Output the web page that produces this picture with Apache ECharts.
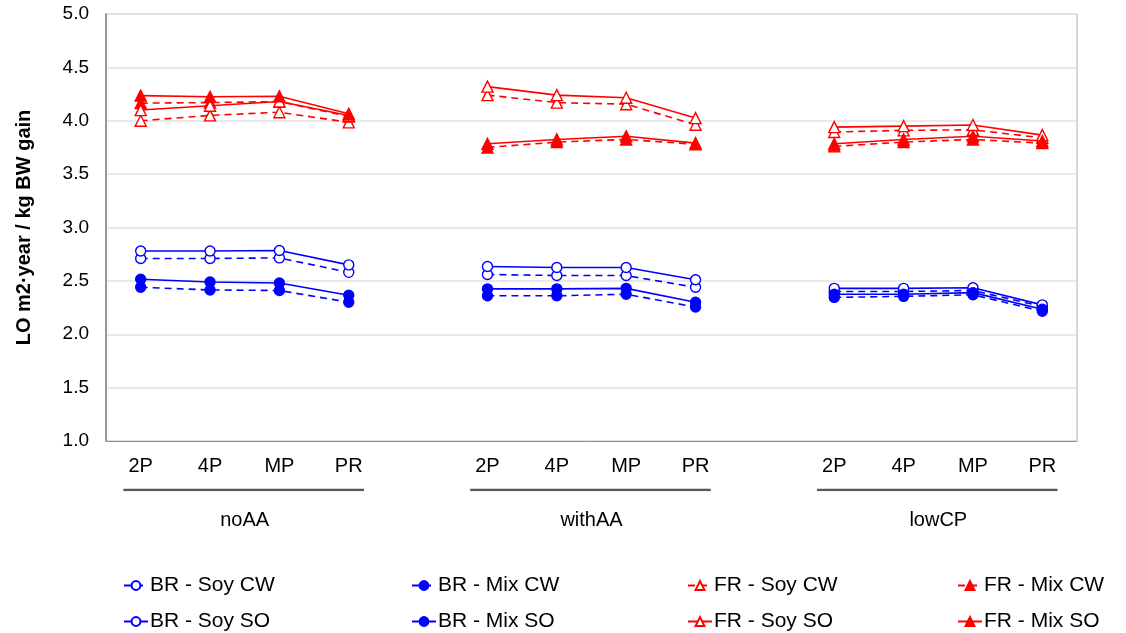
<!DOCTYPE html>
<html>
<head>
<meta charset="utf-8">
<title>LO per kg BW gain</title>
<script src="https://cdn.jsdelivr.net/npm/echarts@6/dist/echarts.min.js"></script>
<style>
  html, body { margin: 0; padding: 0; background: #fff; }
  #chart { width: 1126px; height: 633px; }
</style>
</head>
<body>
<div id="chart"></div>
<script>
// Production systems within each scenario
const systems = ['2P', '4P', 'MP', 'PR'];
// Feed scenarios, each a group of four systems
const scenarios = ['noAA', 'withAA', 'lowCP'];

// LO (m2·year per kg BW gain), values per scenario in order noAA, withAA, lowCP
const brSoyCW = [2.71, 2.71, 2.715, 2.58,   2.56, 2.55, 2.55, 2.44,    2.40, 2.40, 2.41, 2.26];
const brMixCW = [2.44, 2.415, 2.41, 2.30,   2.36, 2.36, 2.375, 2.255,  2.345, 2.355, 2.37, 2.215];
const frSoyCW = [4.00, 4.05, 4.08, 3.985,   4.24, 4.17, 4.155, 3.963,  3.895, 3.91, 3.915, 3.84];
const frMixCW = [4.165, 4.17, 4.18, 4.04,   3.75, 3.80, 3.825, 3.78,   3.76, 3.80, 3.825, 3.79];
const brSoySO = [2.78, 2.78, 2.785, 2.65,   2.635, 2.625, 2.625, 2.51, 2.43, 2.43, 2.435, 2.275];
const brMixSO = [2.515, 2.49, 2.48, 2.365,  2.425, 2.425, 2.43, 2.30,  2.375, 2.375, 2.39, 2.235];
const frSoySO = [4.10, 4.14, 4.18, 4.05,    4.32, 4.24, 4.215, 4.025,  3.94, 3.95, 3.96, 3.865];
const frMixSO = [4.235, 4.225, 4.23, 4.065, 3.785, 3.825, 3.855, 3.79, 3.785, 3.825, 3.855, 3.81];

// y axis range
const yMin = 1.0, yMax = 5.0, yStep = 0.5;

// Legend entries, row by row
const legendRows = [
  ['BR - Soy CW', 'BR - Mix CW', 'FR - Soy CW', 'FR - Mix CW'],
  ['BR - Soy SO', 'BR - Mix SO', 'FR - Soy SO', 'FR - Mix SO']
];

// Category axis: four systems per scenario, one blank slot between scenarios
const categories = [];
scenarios.forEach((s, gi) => {
  systems.forEach(p => categories.push(p));
  if (gi < scenarios.length - 1) categories.push('');
});

// Spread 12 values over the category slots, leaving gaps blank
function spread(vals) {
  const out = [];
  scenarios.forEach((s, gi) => {
    for (let k = 0; k < systems.length; k++) out.push(vals[gi * systems.length + k]);
    if (gi < scenarios.length - 1) out.push('-');
  });
  return out;
}

const BLUE = '#0000ff', RED = '#ff0000';

function lineSeries(name, vals, color, symbol, filled, dashed) {
  return {
    name: name,
    type: 'line',
    data: spread(vals),
    connectNulls: false,
    symbol: symbol,
    symbolSize: symbol === 'triangle' ? 11 : 10,
    showAllSymbol: true,
    lineStyle: { color: color, width: 1.6, type: dashed ? [7, 5] : 'solid' },
    itemStyle: { color: filled ? color : '#ffffff', borderColor: color, borderWidth: 1.4 },
    emphasis: { disabled: true },
    z: 3
  };
}

// Underline under each scenario's systems, in slot units
const groupCentres = scenarios.map((s, gi) => gi * (systems.length + 1) + (systems.length - 1) / 2);
function underline(gi) {
  const first = gi * (systems.length + 1);
  const last = first + systems.length - 1;
  return {
    type: 'line',
    xAxisIndex: 1,
    yAxisIndex: 1,
    data: [[first - 0.25, 0], [last + 0.22, 0]],
    symbol: 'none',
    silent: true,
    lineStyle: { color: '#595959', width: 2.5 },
    emphasis: { disabled: true }
  };
}

const font = 'Liberation Sans, Arial, sans-serif';

// One legend box per entry, laid out in a 2 x 4 table
const legendColLeft = [123, 411, 687, 957];
const legendRowTop = [575, 611];
const legends = [];
legendRows.forEach((row, r) => {
  row.forEach((name, c) => {
    legends.push({
      data: [name],
      left: legendColLeft[c],
      top: legendRowTop[r],
      itemWidth: 24,
      itemHeight: 11,
      itemGap: 0,
      padding: 0,
      selectedMode: false,
      textStyle: { fontSize: 21, color: '#000', fontFamily: font, padding: [0, 0, 0, -3] }
    });
  });
});

const chart = echarts.init(document.getElementById('chart'), null, { renderer: 'canvas' });
chart.setOption({
  animation: false,
  backgroundColor: '#ffffff',
  textStyle: { fontFamily: font },
  grid: [
    { left: 106, right: 49, top: 14, bottom: 192, show: true, borderColor: '#b0b0b0', borderWidth: 1 },
    { left: 106, right: 49, top: 489, height: 1 }
  ],
  xAxis: [
    {
      type: 'category',
      gridIndex: 0,
      data: categories,
      boundaryGap: true,
      axisTick: { show: false },
      axisLine: { lineStyle: { color: '#909090', width: 1 } },
      axisLabel: { interval: 0, color: '#000', fontSize: 20, margin: 15, fontFamily: font }
    },
    {
      type: 'value',
      gridIndex: 1,
      min: -0.5,
      max: categories.length - 0.5,
      interval: 0.5,
      axisLine: { show: false },
      axisTick: { show: false },
      splitLine: { show: false },
      axisLabel: {
        color: '#000', fontSize: 20, margin: 20, fontFamily: font,
        formatter: v => {
          const i = groupCentres.findIndex(c => Math.abs(c - v) < 1e-6);
          return i >= 0 ? scenarios[i] : '';
        }
      }
    }
  ],
  yAxis: [
    {
      type: 'value',
      gridIndex: 0,
      min: yMin,
      max: yMax,
      interval: yStep,
      name: 'LO m2·year / kg BW gain',
      nameLocation: 'middle',
      nameGap: 72,
      nameTextStyle: { fontSize: 20, fontWeight: 'bold', color: '#000', fontFamily: font },
      axisLine: { show: true, lineStyle: { color: '#808080', width: 1.5 } },
      axisTick: { show: false },
      splitLine: { lineStyle: { color: '#e2e2e2', width: 1.5 } },
      axisLabel: { color: '#000', fontSize: 19, margin: 17, fontFamily: font, formatter: v => v.toFixed(1) }
    },
    { type: 'value', gridIndex: 1, min: 0, max: 1, show: false }
  ],
  legend: legends,
  series: [
    lineSeries('BR - Soy CW', brSoyCW, BLUE, 'circle', false, true),
    lineSeries('BR - Mix CW', brMixCW, BLUE, 'circle', true, true),
    lineSeries('FR - Soy CW', frSoyCW, RED, 'triangle', false, true),
    lineSeries('FR - Mix CW', frMixCW, RED, 'triangle', true, true),
    lineSeries('BR - Soy SO', brSoySO, BLUE, 'circle', false, false),
    lineSeries('BR - Mix SO', brMixSO, BLUE, 'circle', true, false),
    lineSeries('FR - Soy SO', frSoySO, RED, 'triangle', false, false),
    lineSeries('FR - Mix SO', frMixSO, RED, 'triangle', true, false),
    underline(0),
    underline(1),
    underline(2)
  ]
});
</script>
</body>
</html>
